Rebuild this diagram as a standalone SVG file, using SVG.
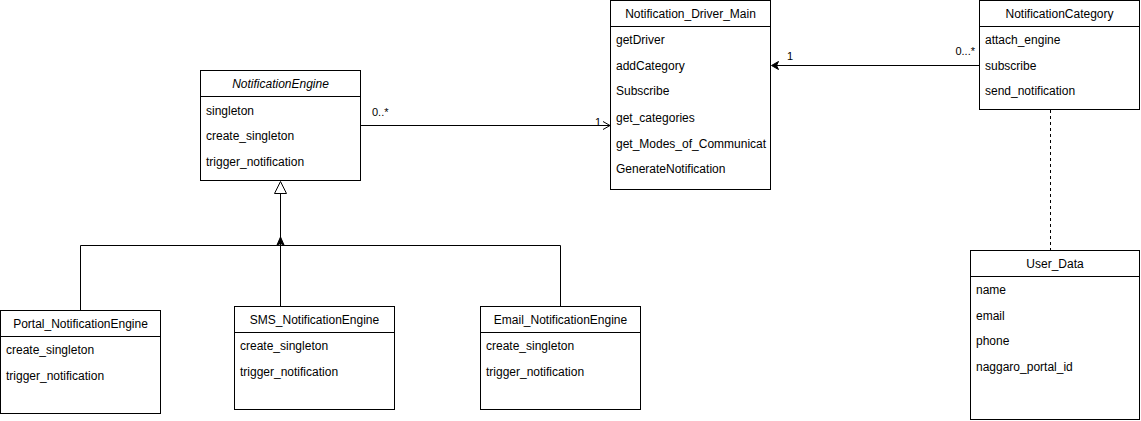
<svg xmlns="http://www.w3.org/2000/svg" width="1141" height="421" viewBox="0 0 1141 421">
<style>
.box{fill:#ffffff;stroke:#000000;stroke-width:1}
.sep{stroke:#000000;stroke-width:1}
.t{font-family:"Liberation Sans",Arial,sans-serif;font-size:12px;fill:#000000}
.title{text-anchor:middle}
.it{font-style:italic}
.edge{fill:none;stroke:#000000;stroke-width:1}
.lbl{font-family:"Liberation Sans",Arial,sans-serif;font-size:11px;fill:#000000}
</style>
<rect x="0" y="0" width="1141" height="421" fill="#ffffff"/>
<g id="connectors">
  <path class="edge" d="M80.5 310 V245.5 H280.5 V194"/>
  <path class="edge" d="M280.5 306 V194"/>
  <path class="edge" d="M560.5 306 V245.5 H280.5"/>
  <polygon points="280.5,181.5 274.5,193.5 286.5,193.5" fill="#ffffff" stroke="#000000" stroke-width="1"/>
  <polygon points="280.5,237 277,245 280.5,243.5 284,245" fill="#000000" stroke="#000000" stroke-width="1"/>
  <path class="edge" d="M360 125.5 H610"/>
  <polyline class="edge" points="603,121.5 610,125.5 603,129.5"/>
  <text class="lbl" x="372" y="116">0..*</text>
  <text class="lbl" x="595" y="126">1</text>
  <path class="edge" d="M979 65.5 H773"/>
  <polygon points="771.5,65.5 778.5,61.5 776.5,65.5 778.5,69.5" fill="#000000" stroke="#000000" stroke-width="1"/>
  <text class="lbl" x="787" y="60">1</text>
  <text class="lbl" x="975" y="55" text-anchor="end">0...*</text>
  <path class="edge" d="M1050.5 110 V250" stroke-dasharray="3,3"/>
</g>
<g id="NotificationEngine">
  <rect class="box" x="200.5" y="70.5" width="160" height="110"/>
  <line class="sep" x1="200.5" y1="96.5" x2="360.5" y2="96.5"/>
  <text class="t title it" x="280.5" y="88">NotificationEngine</text>
  <text class="t" x="206" y="115">singleton</text>
  <text class="t" x="206" y="140">create_singleton</text>
  <text class="t" x="206" y="166">trigger_notification</text>
</g>
<g id="Notification_Driver_Main">
  <rect class="box" x="610.5" y="0.5" width="160" height="189"/>
  <line class="sep" x1="610.5" y1="26.5" x2="770.5" y2="26.5"/>
  <text class="t title" x="690.5" y="18">Notification_Driver_Main</text>
  <text class="t" x="616" y="44">getDriver</text>
  <text class="t" x="616" y="70">addCategory</text>
  <text class="t" x="616" y="95">Subscribe</text>
  <text class="t" x="616" y="122">get_categories</text>
  <text class="t" x="616" y="148">get_Modes_of_Communicat</text>
  <text class="t" x="616" y="173">GenerateNotification</text>
</g>
<g id="NotificationCategory">
  <rect class="box" x="979.5" y="0.5" width="160" height="109"/>
  <line class="sep" x1="979.5" y1="26.5" x2="1139.5" y2="26.5"/>
  <text class="t title" x="1059.5" y="18">NotificationCategory</text>
  <text class="t" x="985" y="44">attach_engine</text>
  <text class="t" x="985" y="70">subscribe</text>
  <text class="t" x="985" y="95">send_notification</text>
</g>
<g id="User_Data">
  <rect class="box" x="970.5" y="250.5" width="169" height="169"/>
  <line class="sep" x1="970.5" y1="276.5" x2="1139.5" y2="276.5"/>
  <text class="t title" x="1055" y="268">User_Data</text>
  <text class="t" x="976" y="294">name</text>
  <text class="t" x="976" y="320">email</text>
  <text class="t" x="976" y="345">phone</text>
  <text class="t" x="976" y="371">naggaro_portal_id</text>
</g>
<g id="Portal_NotificationEngine">
  <rect class="box" x="0.5" y="310.5" width="160" height="103"/>
  <line class="sep" x1="0.5" y1="336.5" x2="160.5" y2="336.5"/>
  <text class="t title" x="80.5" y="328">Portal_NotificationEngine</text>
  <text class="t" x="6" y="354">create_singleton</text>
  <text class="t" x="6" y="380">trigger_notification</text>
</g>
<g id="SMS_NotificationEngine">
  <rect class="box" x="234.5" y="306.5" width="160" height="103"/>
  <line class="sep" x1="234.5" y1="332.5" x2="394.5" y2="332.5"/>
  <text class="t title" x="314.5" y="324">SMS_NotificationEngine</text>
  <text class="t" x="240" y="350">create_singleton</text>
  <text class="t" x="240" y="376">trigger_notification</text>
</g>
<g id="Email_NotificationEngine">
  <rect class="box" x="480.5" y="306.5" width="160" height="103"/>
  <line class="sep" x1="480.5" y1="332.5" x2="640.5" y2="332.5"/>
  <text class="t title" x="560.5" y="324">Email_NotificationEngine</text>
  <text class="t" x="486" y="350">create_singleton</text>
  <text class="t" x="486" y="376">trigger_notification</text>
</g>
</svg>
